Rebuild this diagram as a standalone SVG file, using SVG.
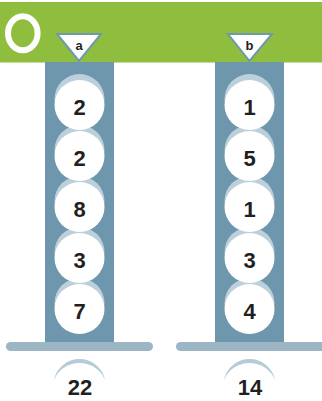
<svg xmlns="http://www.w3.org/2000/svg" width="322" height="401" viewBox="0 0 322 401">
<style>
.col{fill:#6e97ad}
.bar{fill:#9db6c5}
.shd{fill:#bcd0dc}
.ball{fill:#ffffff}
.num{font-family:"Liberation Sans",Arial,sans-serif;font-weight:bold;font-size:22px;fill:#231f20;text-anchor:middle}
.lbl{font-family:"Liberation Sans",Arial,sans-serif;font-weight:bold;font-size:13px;fill:#231f20;text-anchor:middle}
.tri{fill:#ffffff;stroke:#6f98ad;stroke-width:2;stroke-linejoin:miter}
.arc{fill:#b5cbd7}
</style>
<defs>
<g id="ballshape">
<circle class="shd" cx="0" cy="-6" r="25"/>
<circle class="ball" cx="0" cy="0" r="25"/>
</g>
</defs>
<rect id="band" x="0" y="2" width="322" height="60.5" fill="#8fbe3f"/>
<ellipse cx="22.8" cy="33.3" rx="14.8" ry="17" fill="none" stroke="#ffffff" stroke-width="6"/>
<g id="stackA">
<rect class="col" x="45" y="62" width="69" height="281"/>
<rect class="bar" x="6" y="342" width="147" height="9" rx="4.5" ry="4.5"/>
<g id="a5"><use href="#ballshape" x="79.5" y="309"/><text class="num" x="79.5" y="319">7</text></g>
<g id="a4"><use href="#ballshape" x="79.5" y="258"/><text class="num" x="79.5" y="268">3</text></g>
<g id="a3"><use href="#ballshape" x="79.5" y="207"/><text class="num" x="79.5" y="217">8</text></g>
<g id="a2"><use href="#ballshape" x="79.5" y="156"/><text class="num" x="79.5" y="166">2</text></g>
<g id="a1"><use href="#ballshape" x="79.5" y="105"/><text class="num" x="79.5" y="115">2</text></g>
<g id="labelA"><polygon class="tri" points="57,34 101,34 79,61"/><text class="lbl" x="79" y="50">a</text></g>
<g id="totalA"><path class="arc" d="M54,380 A26,26 0 0 1 105,380 A27.6,27.6 0 0 0 54,380 Z"/><text class="num" x="80" y="395">22</text></g>
</g>
<g id="stackB">
<rect class="col" x="215" y="62" width="69" height="281"/>
<rect class="bar" x="176" y="342" width="150" height="9" rx="4.5" ry="4.5"/>
<g id="b5"><use href="#ballshape" x="249.5" y="309"/><text class="num" x="249.5" y="319">4</text></g>
<g id="b4"><use href="#ballshape" x="249.5" y="258"/><text class="num" x="249.5" y="268">3</text></g>
<g id="b3"><use href="#ballshape" x="249.5" y="207"/><text class="num" x="249.5" y="217">1</text></g>
<g id="b2"><use href="#ballshape" x="249.5" y="156"/><text class="num" x="249.5" y="166">5</text></g>
<g id="b1"><use href="#ballshape" x="249.5" y="105"/><text class="num" x="249.5" y="115">1</text></g>
<g id="labelB"><polygon class="tri" points="228,34 272,34 249.5,61"/><text class="lbl" x="249.5" y="50">b</text></g>
<g id="totalB"><path class="arc" d="M224,380 A26,26 0 0 1 275,380 A27.6,27.6 0 0 0 224,380 Z"/><text class="num" x="250" y="395">14</text></g>
</g>
<g id="connectors"/>
</svg>
